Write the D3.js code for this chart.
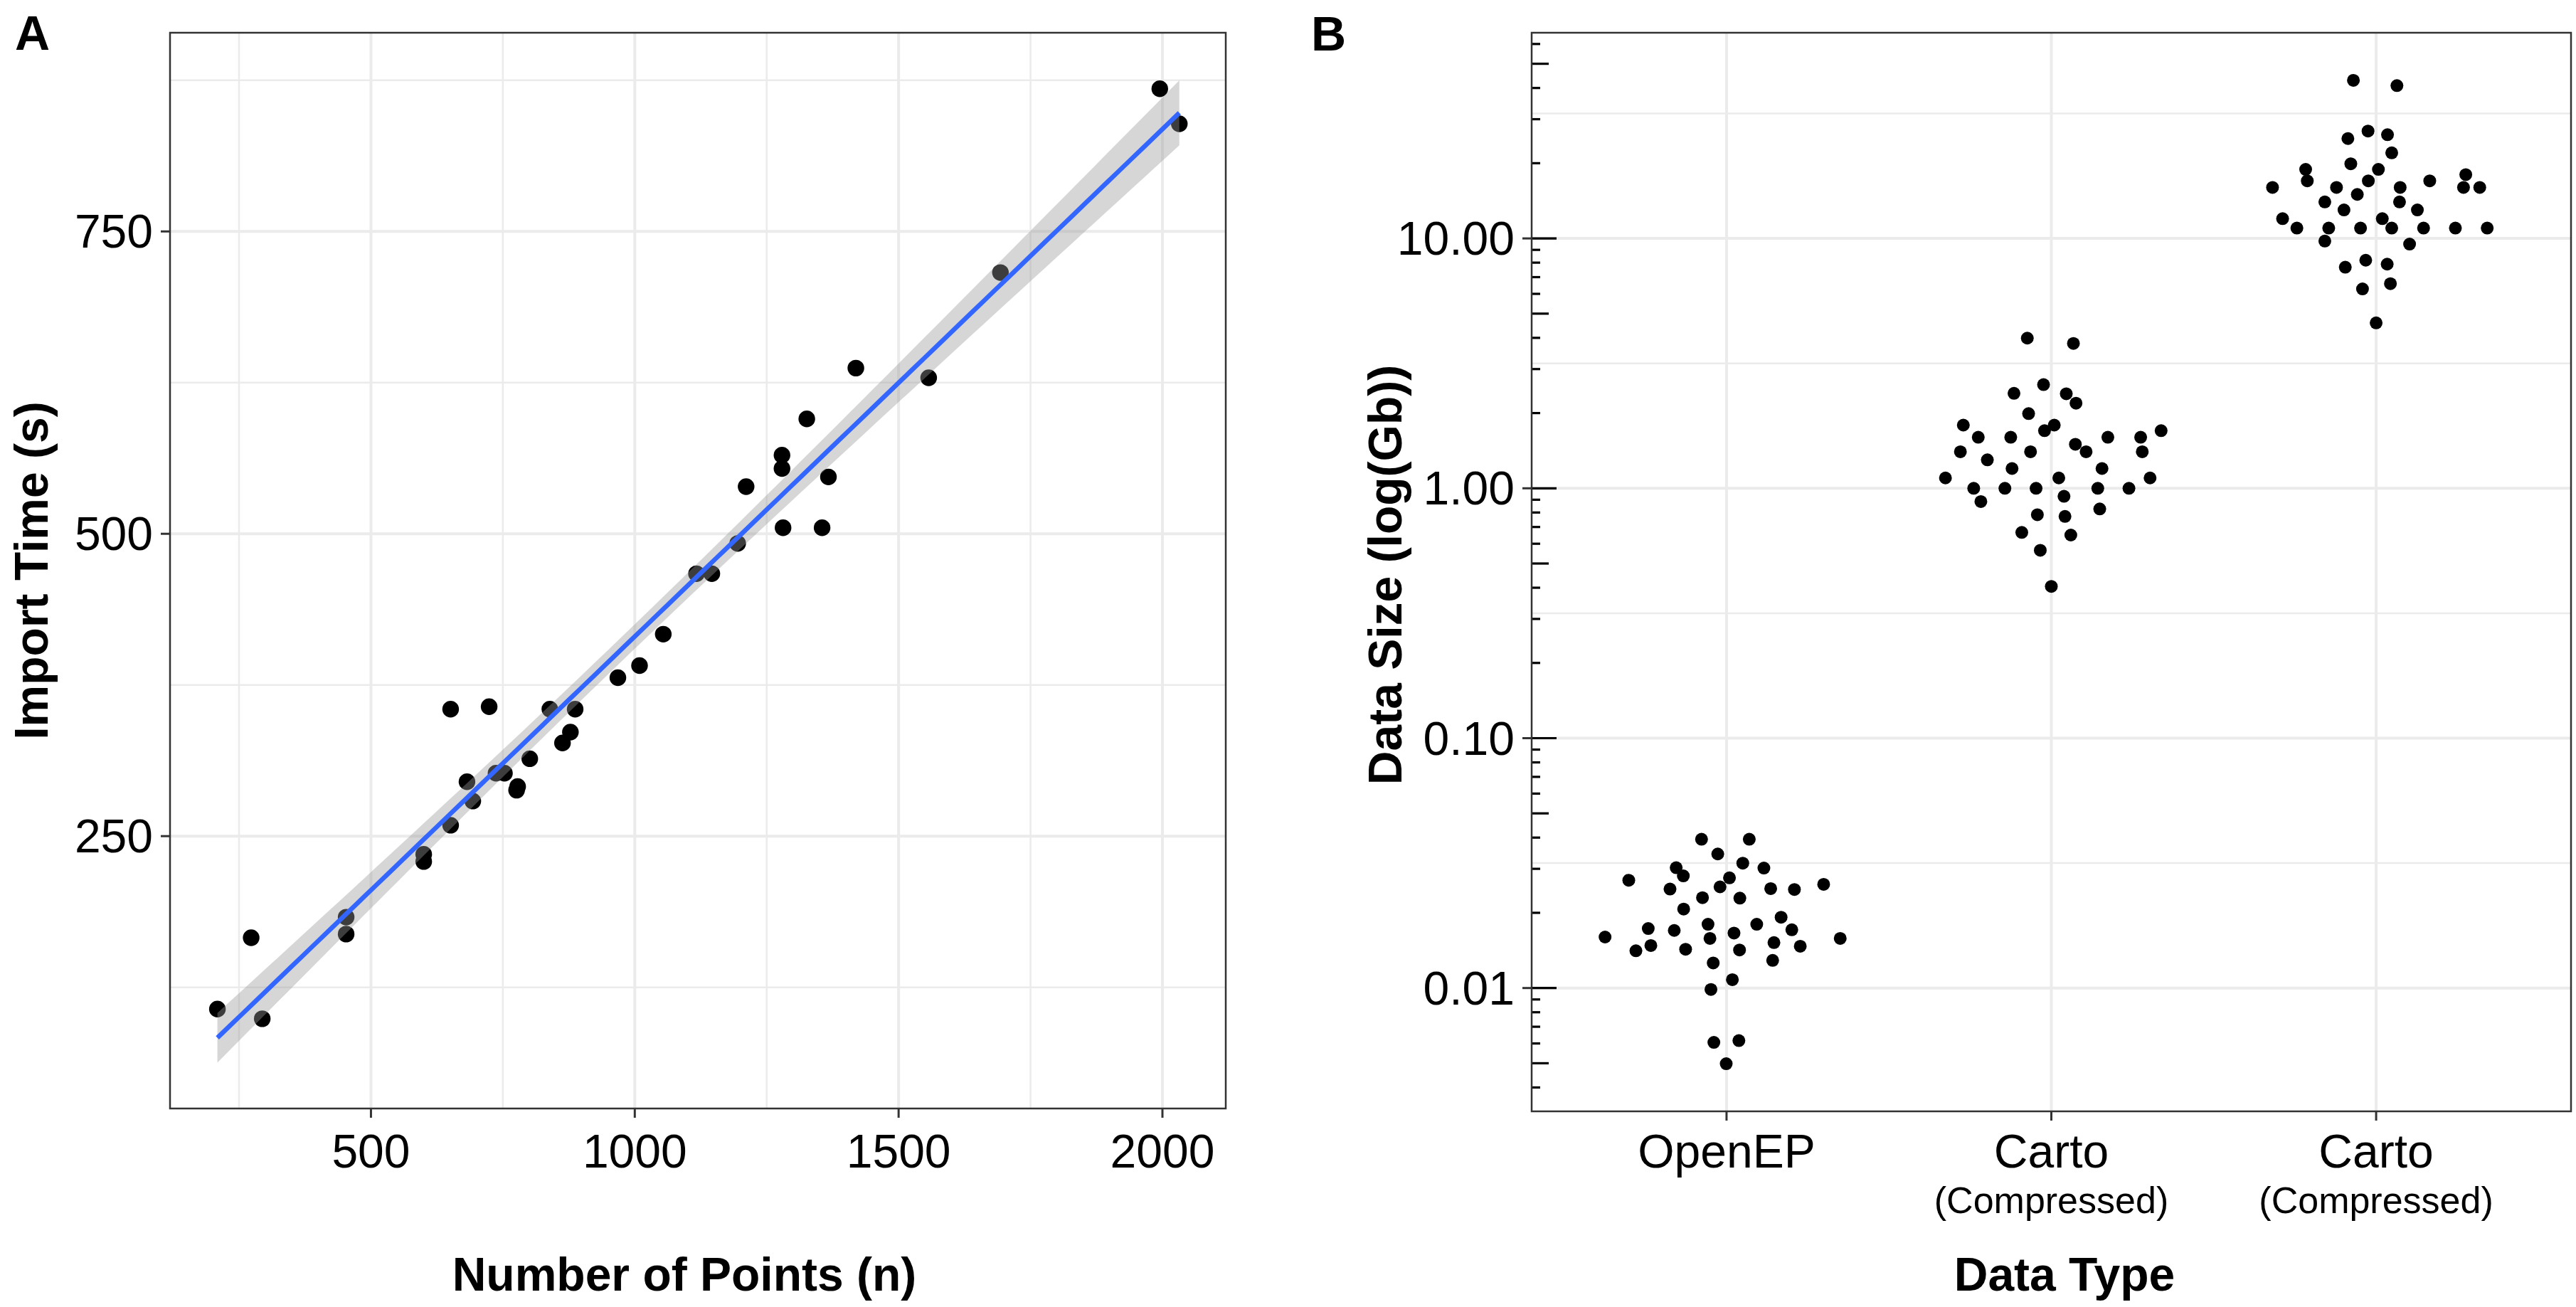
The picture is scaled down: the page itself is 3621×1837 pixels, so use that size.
<!DOCTYPE html>
<html><head><meta charset="utf-8">
<script src="https://cdn.jsdelivr.net/npm/d3@7"></script>
<style>
body{margin:0;background:#fff}
svg{display:block}
text{font-family:"Liberation Sans",Arial,Helvetica,sans-serif;fill:#000}
</style>
</head><body>
<svg id="chart" width="3621" height="1837"></svg>
<script>
// ---------- Panel A data ----------
const pointsN = [209,273,294,453,453,600,600,651,651,724,682,693,737,753,778,776,801,839,887,878,863,968,1009,1054,1117,1146,1195,1211,1279,1279,1281,1355,1367,1326,1419,1557,1693,1995,2032];
const importTime = [107,166,99,183,169,235,229,259,355,357,295,279,302,302,291,288,314,355,355,336,327,381,391,417,467,467,492,539,565,554,505,505,547,595,637,629,716,868,839];
const xTicksA = [500,1000,1500,2000];
const xMinorA = [250,750,1250,1750];
const yTicksA = [250,500,750];
const yMinorA = [125,375,625,875];

// ---------- Panel B data ----------
const categories = ["OpenEP","CartoCompressedA","CartoCompressedB"];
const categoryLabels = [["OpenEP"],["Carto","(Compressed)"],["Carto","(Compressed)"]];
const openepJitter = [-0.077,0.070,-0.027,-0.155,0.050,0.115,-0.133,-0.301,0.009,-0.020,-0.174,0.136,0.209,0.299,-0.074,0.041,-0.132,0.168,-0.057,0.093,-0.241,-0.161,0.201,0.023,-0.374,-0.051,0.350,-0.233,-0.279,-0.126,0.146,0.227,0.040,-0.041,0.142,0.018,-0.048,-0.039,0.038,-0.001];
const openepSize = [0.0394,0.0394,0.0344,0.0303,0.0316,0.0302,0.0281,0.0270,0.0276,0.0254,0.0249,0.0250,0.0248,0.0260,0.0230,0.0229,0.0207,0.0192,0.0180,0.0180,0.0173,0.0170,0.0171,0.0166,0.0160,0.0158,0.0158,0.0148,0.0141,0.0143,0.0152,0.0147,0.0142,0.0126,0.0129,0.0108,0.00987,0.00606,0.00616,0.00498];
const carto1Jitter = [-0.074,0.068,-0.024,-0.115,0.046,0.076,-0.070,-0.271,0.009,-0.021,0.338,-0.225,-0.125,0.174,0.275,-0.280,-0.064,0.074,0.107,0.280,-0.197,-0.121,0.156,-0.326,0.023,0.304,-0.239,-0.143,-0.047,0.143,0.239,-0.217,0.039,-0.043,0.042,0.149,-0.091,0.060,-0.034,0.000];
const carto1Size = [3.99,3.80,2.60,2.40,2.39,2.19,1.99,1.79,1.79,1.70,1.70,1.60,1.60,1.60,1.60,1.40,1.40,1.50,1.40,1.40,1.30,1.20,1.20,1.10,1.10,1.10,1.00,1.00,1.00,1.00,1.00,0.885,0.929,0.784,0.772,0.827,0.666,0.650,0.565,0.405];
const carto2Jitter = [-0.070,0.064,-0.025,0.035,-0.087,0.048,-0.078,-0.217,0.007,0.276,-0.212,-0.024,0.165,-0.319,-0.122,0.074,0.269,0.319,-0.058,-0.158,0.072,-0.099,0.127,-0.288,0.019,-0.244,-0.146,-0.048,0.048,0.146,0.244,0.342,-0.158,0.103,-0.032,-0.095,0.034,0.044,-0.042,0.000];
const carto2Size = [42.9,40.9,26.9,26.0,25.1,22.0,19.9,18.9,18.9,18.0,17.0,17.0,17.0,16.0,16.0,16.0,16.0,16.0,15.0,14.0,14.0,13.0,13.0,12.0,12.0,11.0,11.0,11.0,11.0,11.0,11.0,11.0,9.76,9.49,8.18,7.67,7.89,6.59,6.28,4.59];
const yTicksB = [0.01,0.1,1,10];
const yTickLabelsB = ["0.01","0.10","1.00","10.00"];
const yMinorB = [Math.pow(10,-1.5),Math.pow(10,-0.5),Math.pow(10,0.5),Math.pow(10,1.5)];

// ---------- setup ----------
const svg = d3.select("#chart");
const FONT = 66;
const gridCol = "#ebebeb", borderCol = "#333333";

// =============== PANEL A ===============
const A = {l:239, r:1723, t:46, b:1558};
const xA = d3.scaleLinear().domain([119.2,2120]).range([A.l,A.r]);
const yA = d3.scaleLinear().domain([24.8,914.3]).range([A.b,A.t]);
const gA = svg.append("g");

gA.selectAll(".vminA").data(xMinorA).join("line")
  .attr("x1",d=>xA(d)).attr("x2",d=>xA(d)).attr("y1",A.t).attr("y2",A.b)
  .attr("stroke",gridCol).attr("stroke-width",2.5);
gA.selectAll(".hminA").data(yMinorA).join("line")
  .attr("y1",d=>yA(d)).attr("y2",d=>yA(d)).attr("x1",A.l).attr("x2",A.r)
  .attr("stroke",gridCol).attr("stroke-width",2.5);
gA.selectAll(".vmajA").data(xTicksA).join("line")
  .attr("x1",d=>xA(d)).attr("x2",d=>xA(d)).attr("y1",A.t).attr("y2",A.b)
  .attr("stroke",gridCol).attr("stroke-width",4);
gA.selectAll(".hmajA").data(yTicksA).join("line")
  .attr("y1",d=>yA(d)).attr("y2",d=>yA(d)).attr("x1",A.l).attr("x2",A.r)
  .attr("stroke",gridCol).attr("stroke-width",4);

const dataA = pointsN.map((n,i)=>({n, t:importTime[i]}));
gA.selectAll(".ptA").data(dataA).join("circle")
  .attr("cx",d=>xA(d.n)).attr("cy",d=>yA(d.t)).attr("r",11.7).attr("fill","#000");

// linear model fit with 95% CI (as geom_smooth(method="lm"))
const nObs = dataA.length;
const mx = d3.mean(dataA,d=>d.n), my = d3.mean(dataA,d=>d.t);
const sxx = d3.sum(dataA,d=>(d.n-mx)*(d.n-mx));
const sxy = d3.sum(dataA,d=>(d.n-mx)*(d.t-my));
const slope = sxy/sxx, icpt = my - slope*mx;
const rss = d3.sum(dataA,d=>Math.pow(d.t-(icpt+slope*d.n),2));
const sigma = Math.sqrt(rss/(nObs-2));
const tq = 2.026; // t quantile 0.975, df = 37
const [xlo,xhi] = d3.extent(pointsN);
const fit = d3.range(80).map(i=>{
  const x = xlo + (xhi-xlo)*i/79;
  const yhat = icpt + slope*x;
  const se = sigma*Math.sqrt(1/nObs + (x-mx)*(x-mx)/sxx);
  return {x, y:yhat, lo:yhat-tq*se, hi:yhat+tq*se};
});
gA.append("path").datum(fit)
  .attr("d",d3.area().x(d=>xA(d.x)).y0(d=>yA(d.lo)).y1(d=>yA(d.hi)))
  .attr("fill","#999999").attr("fill-opacity",0.4);
gA.append("path").datum(fit)
  .attr("d",d3.line().x(d=>xA(d.x)).y(d=>yA(d.y)))
  .attr("fill","none").attr("stroke","#3366FF").attr("stroke-width",6.5);

gA.append("rect").attr("x",A.l).attr("y",A.t).attr("width",A.r-A.l).attr("height",A.b-A.t)
  .attr("fill","none").attr("stroke",borderCol).attr("stroke-width",2.5);

// axes
gA.selectAll(".xtA").data(xTicksA).join("line")
  .attr("x1",d=>xA(d)).attr("x2",d=>xA(d)).attr("y1",A.b).attr("y2",A.b+13)
  .attr("stroke",borderCol).attr("stroke-width",3);
gA.selectAll(".ytA").data(yTicksA).join("line")
  .attr("y1",d=>yA(d)).attr("y2",d=>yA(d)).attr("x1",A.l-13).attr("x2",A.l)
  .attr("stroke",borderCol).attr("stroke-width",3);
gA.selectAll(".xlA").data(xTicksA).join("text")
  .attr("x",d=>xA(d)).attr("y",1641).attr("text-anchor","middle")
  .attr("font-size",FONT).text(d=>d);
gA.selectAll(".ylA").data(yTicksA).join("text")
  .attr("x",215).attr("y",d=>yA(d)).attr("dy","0.35em").attr("text-anchor","end")
  .attr("font-size",FONT).text(d=>d);
gA.append("text").attr("x",962).attr("y",1814).attr("text-anchor","middle")
  .attr("font-size",FONT).attr("font-weight","bold").text("Number of Points (n)");
gA.append("text").attr("transform","translate(67,802) rotate(-90)").attr("text-anchor","middle")
  .attr("font-size",FONT).attr("font-weight","bold").text("Import Time (s)");
gA.append("text").attr("x",21).attr("y",70).attr("font-size",68).attr("font-weight","bold").text("A");

// =============== PANEL B ===============
const B = {l:2153, r:3614, t:46, b:1562};
const xB = d3.scalePoint().domain(categories).range([B.l,B.r]).padding(0.6);
const step = xB.step();
const yB = d3.scaleLog().domain([Math.pow(10,-2.4935),Math.pow(10,1.8232)]).range([B.b,B.t]);
const gB = svg.append("g");

gB.selectAll(".hminB").data(yMinorB).join("line")
  .attr("y1",d=>yB(d)).attr("y2",d=>yB(d)).attr("x1",B.l).attr("x2",B.r)
  .attr("stroke",gridCol).attr("stroke-width",2.5);
gB.selectAll(".hmajB").data(yTicksB).join("line")
  .attr("y1",d=>yB(d)).attr("y2",d=>yB(d)).attr("x1",B.l).attr("x2",B.r)
  .attr("stroke",gridCol).attr("stroke-width",4);
gB.selectAll(".vmajB").data(categories).join("line")
  .attr("x1",d=>xB(d)).attr("x2",d=>xB(d)).attr("y1",B.t).attr("y2",B.b)
  .attr("stroke",gridCol).attr("stroke-width",4);

const dataB = [];
[[openepSize,openepJitter],[carto1Size,carto1Jitter],[carto2Size,carto2Jitter]].forEach((s,ci)=>{
  s[0].forEach((v,i)=>dataB.push({cat:categories[ci], v, j:s[1][i]}));
});
gB.selectAll(".ptB").data(dataB).join("circle")
  .attr("cx",d=>xB(d.cat)+d.j*step).attr("cy",d=>yB(d.v)).attr("r",9).attr("fill","#000");

// log ticks (annotation_logticks, left side)
const [dlo,dhi] = yB.domain();
const logTicks = [];
for (let e=-4;e<=2;e++) for (let m=1;m<=9;m++){
  const v = m*Math.pow(10,e);
  if (v>=dlo && v<=dhi) logTicks.push({v, len: m===1?35:(m===5?24:12)});
}
gB.selectAll(".lt").data(logTicks).join("line")
  .attr("x1",B.l).attr("x2",d=>B.l+d.len).attr("y1",d=>yB(d.v)).attr("y2",d=>yB(d.v))
  .attr("stroke","#000").attr("stroke-width",3.2);

gB.append("rect").attr("x",B.l).attr("y",B.t).attr("width",B.r-B.l).attr("height",B.b-B.t)
  .attr("fill","none").attr("stroke",borderCol).attr("stroke-width",2.5);

gB.selectAll(".ytB").data(yTicksB).join("line")
  .attr("y1",d=>yB(d)).attr("y2",d=>yB(d)).attr("x1",B.l-13).attr("x2",B.l)
  .attr("stroke",borderCol).attr("stroke-width",3);
gB.selectAll(".xtB").data(categories).join("line")
  .attr("x1",d=>xB(d)).attr("x2",d=>xB(d)).attr("y1",B.b).attr("y2",B.b+13)
  .attr("stroke",borderCol).attr("stroke-width",3);
gB.selectAll(".ylB").data(yTicksB).join("text")
  .attr("x",2129).attr("y",d=>yB(d)).attr("dy","0.35em").attr("text-anchor","end")
  .attr("font-size",FONT).text((d,i)=>yTickLabelsB[i]);
categories.forEach((c,i)=>{
  const lab = categoryLabels[i];
  gB.append("text").attr("x",xB(c)).attr("y",1641).attr("text-anchor","middle")
    .attr("font-size",FONT).text(lab[0]);
  if (lab[1]) gB.append("text").attr("x",xB(c)).attr("y",1705).attr("text-anchor","middle")
    .attr("font-size",52).text(lab[1]);
});
gB.append("text").attr("x",2902).attr("y",1814).attr("text-anchor","middle")
  .attr("font-size",FONT).attr("font-weight","bold").text("Data Type");
gB.append("text").attr("transform","translate(1970,808) rotate(-90)").attr("text-anchor","middle")
  .attr("font-size",FONT).attr("font-weight","bold").text("Data Size (log(Gb))");
gB.append("text").attr("x",1843).attr("y",71).attr("font-size",68).attr("font-weight","bold").text("B");
</script>
</body></html>
